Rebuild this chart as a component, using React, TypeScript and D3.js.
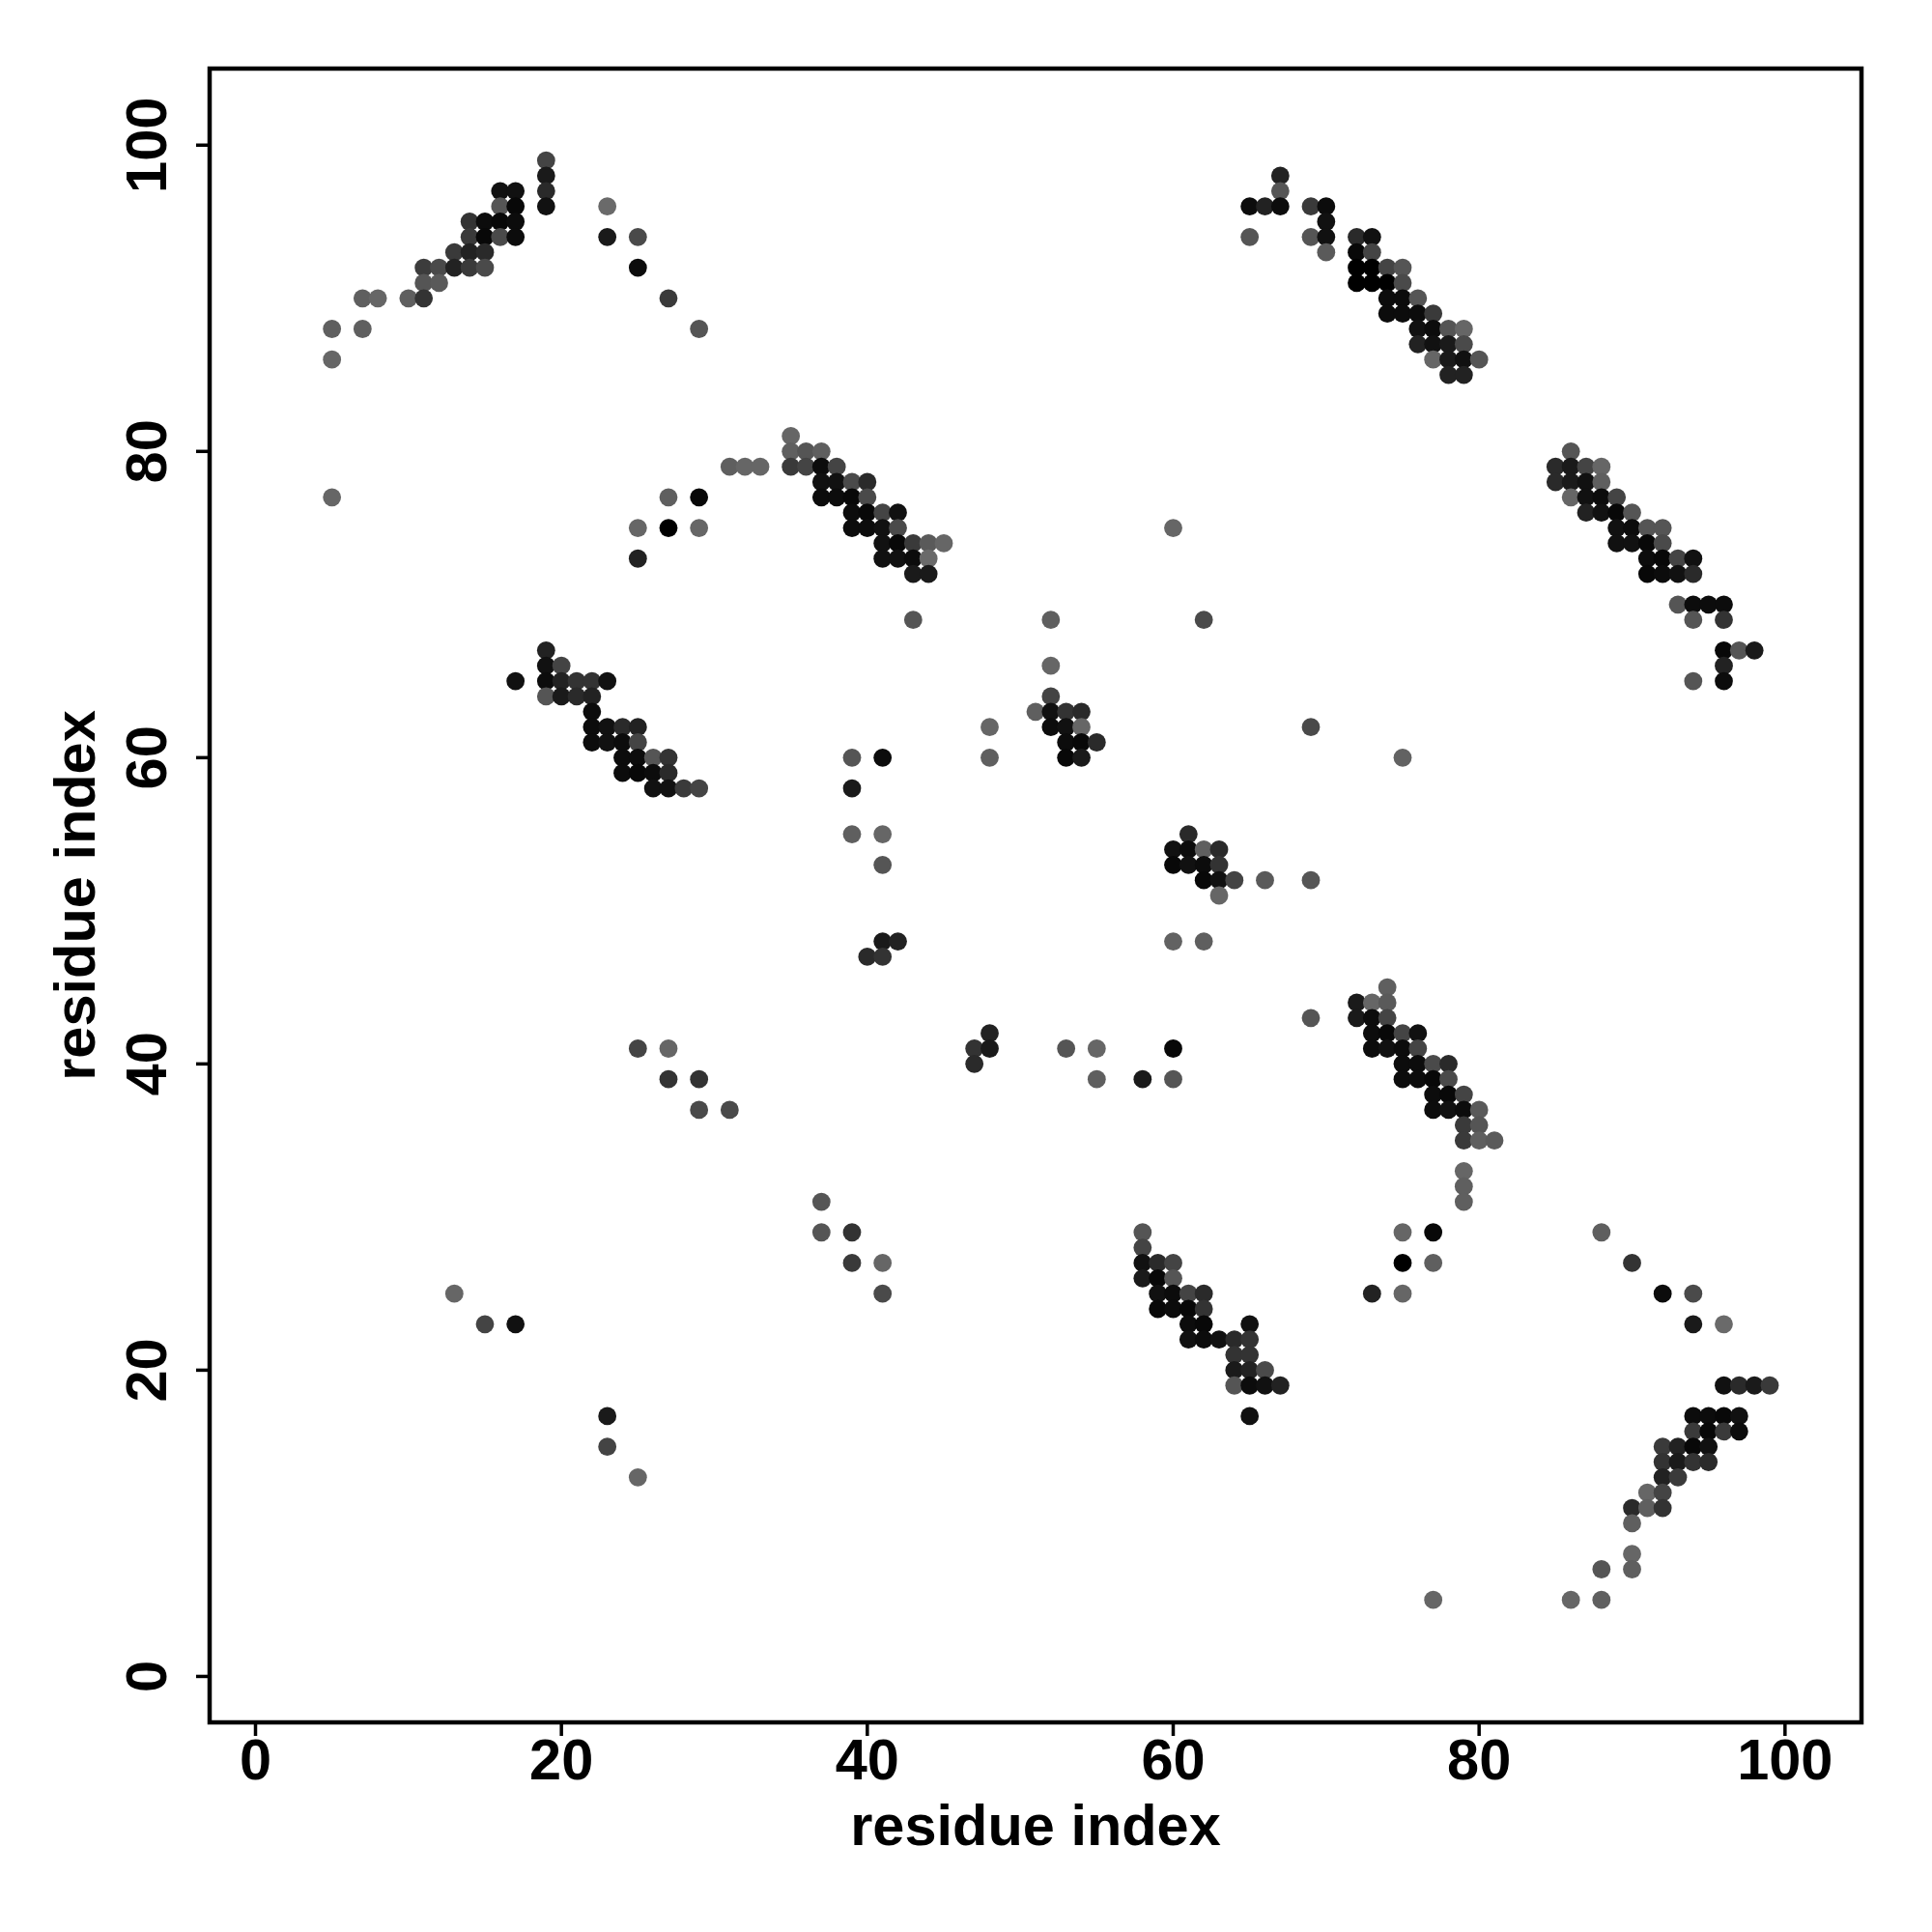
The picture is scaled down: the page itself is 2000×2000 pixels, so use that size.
import React from 'react';
import * as d3 from 'd3';

// each contact: [residue i, residue j, grey level (0 = strongest/black, higher = weaker/lighter)]
type Contact = [number, number, number];

const contactsTopLeft: Contact[] = [
  [19, 99, 68], [19, 98, 26], [19, 97, 42], [19, 96, 17],
  [16, 97, 17], [17, 97, 17], [16, 96, 85], [17, 96, 8],
  [14, 95, 51], [15, 95, 12], [16, 95, 8], [17, 95, 12],
  [14, 94, 58], [15, 94, 8], [16, 94, 74], [17, 94, 12],
  [13, 93, 58], [14, 93, 34], [15, 93, 42],
  [11, 92, 60], [12, 92, 74], [13, 92, 34], [14, 92, 58], [15, 92, 74],
  [11, 91, 85], [12, 91, 90],
  [7, 90, 95], [8, 90, 102], [10, 90, 95], [11, 90, 51],
  [5, 88, 95], [7, 88, 95], [5, 86, 102],
  [23, 96, 106], [23, 94, 26], [25, 94, 74], [25, 92, 12], [27, 90, 58], [29, 88, 85],
];

const contactsUpperMid: Contact[] = [
  [5, 77, 102], [27, 77, 95], [29, 77, 8], [25, 75, 102], [27, 75, 0], [29, 75, 102], [25, 73, 34],
  [31, 79, 95], [32, 79, 102], [33, 79, 102],
  [35, 81, 102], [35, 80, 95], [36, 80, 85], [37, 80, 95],
  [35, 79, 58], [36, 79, 68], [37, 79, 12], [38, 79, 68],
  [37, 78, 17], [38, 78, 17], [39, 78, 74], [40, 78, 42],
  [37, 77, 12], [38, 77, 12], [39, 77, 8], [40, 77, 74],
  [39, 76, 12], [40, 76, 8], [41, 76, 68], [42, 76, 17],
  [39, 75, 12], [40, 75, 12], [41, 75, 17], [42, 75, 74],
  [41, 74, 17], [42, 74, 8], [43, 74, 58], [44, 74, 90], [45, 74, 102],
  [41, 73, 17], [42, 73, 17], [43, 73, 12], [44, 73, 106],
  [43, 72, 26], [44, 72, 26],
  [43, 69, 85],
];

const contactsTopRight: Contact[] = [
  [67, 98, 34], [67, 97, 85], [65, 96, 12], [66, 96, 34], [67, 96, 12], [65, 94, 85],
  [69, 96, 58], [70, 96, 12], [70, 95, 17], [69, 94, 85], [70, 94, 17], [70, 93, 90],
  [72, 94, 42], [73, 94, 17], [72, 93, 8], [73, 93, 68],
  [72, 92, 0], [73, 92, 0], [74, 92, 68], [75, 92, 85],
  [72, 91, 0], [73, 91, 0], [74, 91, 0], [75, 91, 74],
  [74, 90, 12], [75, 90, 12], [76, 90, 85],
  [74, 89, 12], [75, 89, 12], [76, 89, 12], [77, 89, 58],
  [76, 88, 17], [77, 88, 12], [78, 88, 85], [79, 88, 102],
  [76, 87, 34], [77, 87, 17], [78, 87, 26], [79, 87, 74],
  [77, 86, 102], [78, 86, 26], [79, 86, 17], [80, 86, 85],
  [78, 85, 34], [79, 85, 34],
];

const contactsRight: Contact[] = [
  [86, 80, 85],
  [85, 79, 42], [86, 79, 26], [87, 79, 68], [88, 79, 102],
  [85, 78, 42], [86, 78, 26], [87, 78, 17], [88, 78, 95],
  [86, 77, 102], [87, 77, 17], [88, 77, 12], [89, 77, 68],
  [87, 76, 34], [88, 76, 17], [89, 76, 8], [90, 76, 85],
  [89, 75, 17], [90, 75, 12], [91, 75, 85], [92, 75, 85],
  [89, 74, 17], [90, 74, 17], [91, 74, 8], [92, 74, 74],
  [91, 73, 12], [92, 73, 8], [93, 73, 68], [94, 73, 17],
  [91, 72, 8], [92, 72, 12], [93, 72, 17], [94, 72, 42],
  [93, 70, 85], [94, 70, 12], [95, 70, 12], [96, 70, 12],
  [94, 69, 85], [96, 69, 51],
  [96, 67, 8], [97, 67, 85], [98, 67, 26],
  [96, 66, 34], [96, 65, 12], [94, 65, 85],
];

const contactsMidLeft: Contact[] = [
  [17, 65, 17],
  [19, 67, 34], [19, 66, 17], [20, 66, 68],
  [19, 65, 12], [20, 65, 34], [21, 65, 51], [22, 65, 51], [23, 65, 17],
  [19, 64, 85], [20, 64, 26], [21, 64, 42], [22, 64, 34],
  [22, 63, 12],
  [22, 62, 12], [23, 62, 17], [24, 62, 42], [25, 62, 34],
  [22, 61, 12], [23, 61, 17], [24, 61, 12], [25, 61, 68],
  [24, 60, 12], [25, 60, 12], [26, 60, 85], [27, 60, 51],
  [24, 59, 12], [25, 59, 8], [26, 59, 12], [27, 59, 42],
  [26, 58, 17], [27, 58, 17], [28, 58, 58], [29, 58, 68],
];

const contactsCentre: Contact[] = [
  [52, 69, 95], [52, 66, 102], [52, 64, 68], [51, 63, 95], [52, 63, 17], [53, 63, 51], [54, 63, 42],
  [52, 62, 12], [53, 62, 17], [54, 62, 102],
  [53, 61, 12], [54, 61, 8], [55, 61, 42],
  [53, 60, 8], [54, 60, 26],
  [48, 62, 102], [48, 60, 95],
  [39, 60, 85], [41, 60, 12], [39, 58, 26], [39, 55, 95], [41, 55, 102], [41, 53, 85],
  [41, 48, 26], [42, 48, 34], [40, 47, 42], [41, 47, 51],
  [60, 75, 102], [62, 69, 74], [69, 62, 74], [75, 60, 98],
  [61, 55, 42],
  [60, 54, 17], [61, 54, 12], [62, 54, 95], [63, 54, 42],
  [60, 53, 8], [61, 53, 17], [62, 53, 12], [63, 53, 51],
  [62, 52, 8], [63, 52, 17], [64, 52, 68], [66, 52, 90], [69, 52, 85],
  [63, 51, 102],
  [60, 48, 98], [62, 48, 95],
];

const contactsLowerLeft: Contact[] = [
  [25, 41, 68], [27, 41, 102], [27, 39, 51], [29, 39, 51], [29, 37, 74], [31, 37, 74],
  [13, 25, 102], [15, 23, 68], [17, 23, 17], [23, 17, 26], [23, 15, 68], [25, 13, 102],
  [48, 42, 34], [47, 41, 51], [48, 41, 26], [47, 40, 42],
  [53, 41, 85], [55, 41, 102], [55, 39, 95], [58, 39, 26], [60, 41, 8], [60, 39, 85],
  [37, 31, 85], [37, 29, 85], [39, 29, 51], [39, 27, 58], [41, 27, 102], [41, 25, 74],
];

const contactsLowerMid: Contact[] = [
  [69, 43, 85], [74, 45, 95],
  [72, 44, 26], [73, 44, 102], [74, 44, 90],
  [72, 43, 26], [73, 43, 12], [74, 43, 68],
  [73, 42, 12], [74, 42, 8], [75, 42, 68], [76, 42, 17],
  [73, 41, 12], [74, 41, 17], [75, 41, 12], [76, 41, 68],
  [75, 40, 12], [76, 40, 12], [77, 40, 74], [78, 40, 42],
  [75, 39, 12], [76, 39, 12], [77, 39, 8], [78, 39, 74],
  [77, 38, 12], [78, 38, 8], [79, 38, 68],
  [77, 37, 12], [78, 37, 17], [79, 37, 12], [80, 37, 90],
  [79, 36, 58], [80, 36, 85],
  [79, 35, 58], [80, 35, 95], [81, 35, 90],
  [79, 33, 102], [79, 32, 95], [79, 31, 95],
  [75, 29, 102], [77, 29, 8], [75, 27, 0], [77, 27, 95], [73, 25, 34], [75, 25, 102],
  [58, 29, 85], [58, 28, 68],
  [58, 27, 17], [59, 27, 42], [60, 27, 68],
  [58, 26, 26], [59, 26, 8], [60, 26, 85],
  [59, 25, 17], [60, 25, 12], [61, 25, 68], [62, 25, 42],
  [59, 24, 8], [60, 24, 12], [61, 24, 8], [62, 24, 51],
  [61, 23, 12], [62, 23, 8], [65, 23, 17],
  [61, 22, 17], [62, 22, 12], [63, 22, 17], [64, 22, 42], [65, 22, 51],
  [64, 21, 51], [65, 21, 51],
  [64, 20, 26], [65, 20, 34], [66, 20, 74],
  [64, 19, 85], [65, 19, 12], [66, 19, 17], [67, 19, 34],
  [65, 17, 17],
];

const contactsBottomRight: Contact[] = [
  [88, 29, 95], [90, 27, 51], [92, 25, 12], [94, 25, 74], [94, 23, 26], [96, 23, 106],
  [96, 19, 17], [97, 19, 42], [98, 19, 26], [99, 19, 58],
  [94, 17, 12], [95, 17, 12], [96, 17, 8], [97, 17, 17],
  [94, 16, 58], [95, 16, 8], [96, 16, 58], [97, 16, 12],
  [92, 15, 58], [93, 15, 34], [94, 15, 8], [95, 15, 17],
  [92, 14, 51], [93, 14, 26], [94, 14, 51], [95, 14, 42],
  [92, 13, 34], [93, 13, 58],
  [91, 12, 102], [92, 12, 68],
  [90, 11, 42], [91, 11, 95], [92, 11, 51],
  [90, 10, 95], [90, 8, 102], [90, 7, 95], [88, 7, 85],
  [77, 5, 102], [86, 5, 102], [88, 5, 95],
];

const xTicks = [0, 20, 40, 60, 80, 100];
const yTicks = [0, 20, 40, 60, 80, 100];
const xTitle = 'residue index';
const yTitle = 'residue index';

export default function App() {
  const W = 2000;
  const H = 2000;
  const left = 217;
  const right = 1927;
  const top = 71;
  const bottom = 1783;

  const x = d3.scaleLinear().domain([-3, 105]).range([left, right]);
  const y = d3.scaleLinear().domain([-3, 105]).range([bottom, top]);
  const shade = d3.scaleLinear<string>().domain([0, 110]).range(['#000000', '#6e6e6e']);

  const all: Contact[] = [
    ...contactsTopLeft,
    ...contactsUpperMid,
    ...contactsTopRight,
    ...contactsRight,
    ...contactsMidLeft,
    ...contactsCentre,
    ...contactsLowerLeft,
    ...contactsLowerMid,
    ...contactsBottomRight,
  ];

  const font = "'Liberation Sans', Arial, Helvetica, sans-serif";
  const fs = 59.5;

  return (
    <svg
      width={W}
      height={H}
      style={{ position: 'absolute', left: 0, top: 0, background: '#fff' }}
      fontFamily={font}
      fontWeight="bold"
    >
      <rect x={0} y={0} width={W} height={H} fill="#ffffff" />
      <g>
        {all.map(([a, b, g], i) => (
          <circle key={i} cx={x(a)} cy={y(b)} r={9.4} fill={shade(g)} />
        ))}
      </g>
      <rect
        x={left}
        y={top}
        width={right - left}
        height={bottom - top}
        fill="none"
        stroke="#000"
        strokeWidth={4.5}
      />
      {xTicks.map((t) => (
        <g key={'x' + t}>
          <line x1={x(t)} x2={x(t)} y1={bottom} y2={bottom + 14} stroke="#000" strokeWidth={3.5} />
          <text x={x(t)} y={1842} textAnchor="middle" fontSize={fs} fill="#000">
            {t}
          </text>
        </g>
      ))}
      {yTicks.map((t) => (
        <g key={'y' + t}>
          <line x1={left} x2={left - 14} y1={y(t)} y2={y(t)} stroke="#000" strokeWidth={3.5} />
          <text
            transform={`translate(172, ${y(t)}) rotate(-90)`}
            textAnchor="middle"
            fontSize={fs}
            fill="#000"
          >
            {t}
          </text>
        </g>
      ))}
      <text x={(left + right) / 2} y={1910} textAnchor="middle" fontSize={fs} fill="#000">
        {xTitle}
      </text>
      <text
        transform={`translate(98, ${(top + bottom) / 2}) rotate(-90)`}
        textAnchor="middle"
        fontSize={fs}
        fill="#000"
      >
        {yTitle}
      </text>
    </svg>
  );
}
